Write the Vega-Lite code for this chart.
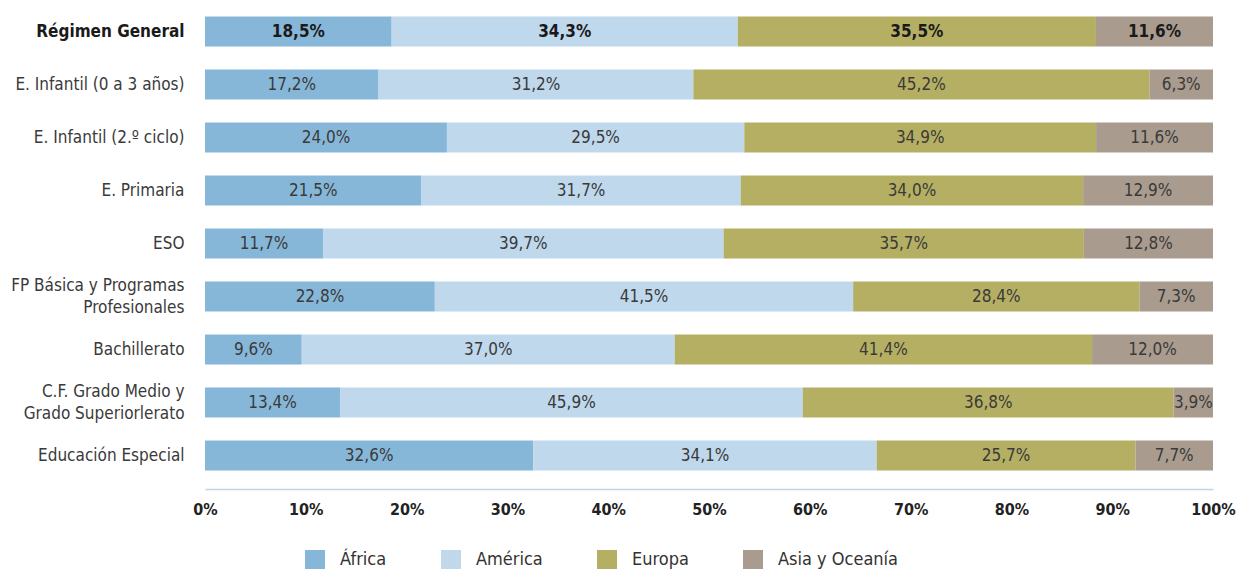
{
  "$schema": "https://vega.github.io/schema/vega-lite/v6.json",
  "width": 1008,
  "height": 477,
  "autosize": "none",
  "padding": {"left": 205, "top": 5, "right": 23, "bottom": 87},
  "background": "white",
  "config": {
    "view": {"stroke": null},
    "font": "'Liberation Sans Narrow', 'DejaVu Sans Condensed', sans-serif",
    "locale": {"number": {"decimal": ",", "thousands": ".", "grouping": [3], "currency": ["", " €"]}}
  },
  "data": {
    "values": [
      {"cat": "Régimen General", "region": "África", "ord": 1, "value": 0.185},
      {"cat": "Régimen General", "region": "América", "ord": 2, "value": 0.343},
      {"cat": "Régimen General", "region": "Europa", "ord": 3, "value": 0.355},
      {"cat": "Régimen General", "region": "Asia y Oceanía", "ord": 4, "value": 0.116},
      {"cat": "E. Infantil (0 a 3 años)", "region": "África", "ord": 1, "value": 0.172},
      {"cat": "E. Infantil (0 a 3 años)", "region": "América", "ord": 2, "value": 0.312},
      {"cat": "E. Infantil (0 a 3 años)", "region": "Europa", "ord": 3, "value": 0.452},
      {"cat": "E. Infantil (0 a 3 años)", "region": "Asia y Oceanía", "ord": 4, "value": 0.063},
      {"cat": "E. Infantil (2.º ciclo)", "region": "África", "ord": 1, "value": 0.240},
      {"cat": "E. Infantil (2.º ciclo)", "region": "América", "ord": 2, "value": 0.295},
      {"cat": "E. Infantil (2.º ciclo)", "region": "Europa", "ord": 3, "value": 0.349},
      {"cat": "E. Infantil (2.º ciclo)", "region": "Asia y Oceanía", "ord": 4, "value": 0.116},
      {"cat": "E. Primaria", "region": "África", "ord": 1, "value": 0.215},
      {"cat": "E. Primaria", "region": "América", "ord": 2, "value": 0.317},
      {"cat": "E. Primaria", "region": "Europa", "ord": 3, "value": 0.340},
      {"cat": "E. Primaria", "region": "Asia y Oceanía", "ord": 4, "value": 0.129},
      {"cat": "ESO", "region": "África", "ord": 1, "value": 0.117},
      {"cat": "ESO", "region": "América", "ord": 2, "value": 0.397},
      {"cat": "ESO", "region": "Europa", "ord": 3, "value": 0.357},
      {"cat": "ESO", "region": "Asia y Oceanía", "ord": 4, "value": 0.128},
      {"cat": "FP Básica y Programas|Profesionales", "region": "África", "ord": 1, "value": 0.228},
      {"cat": "FP Básica y Programas|Profesionales", "region": "América", "ord": 2, "value": 0.415},
      {"cat": "FP Básica y Programas|Profesionales", "region": "Europa", "ord": 3, "value": 0.284},
      {"cat": "FP Básica y Programas|Profesionales", "region": "Asia y Oceanía", "ord": 4, "value": 0.073},
      {"cat": "Bachillerato", "region": "África", "ord": 1, "value": 0.096},
      {"cat": "Bachillerato", "region": "América", "ord": 2, "value": 0.370},
      {"cat": "Bachillerato", "region": "Europa", "ord": 3, "value": 0.414},
      {"cat": "Bachillerato", "region": "Asia y Oceanía", "ord": 4, "value": 0.120},
      {"cat": "C.F. Grado Medio y|Grado Superiorlerato", "region": "África", "ord": 1, "value": 0.134},
      {"cat": "C.F. Grado Medio y|Grado Superiorlerato", "region": "América", "ord": 2, "value": 0.459},
      {"cat": "C.F. Grado Medio y|Grado Superiorlerato", "region": "Europa", "ord": 3, "value": 0.368},
      {"cat": "C.F. Grado Medio y|Grado Superiorlerato", "region": "Asia y Oceanía", "ord": 4, "value": 0.039},
      {"cat": "Educación Especial", "region": "África", "ord": 1, "value": 0.326},
      {"cat": "Educación Especial", "region": "América", "ord": 2, "value": 0.341},
      {"cat": "Educación Especial", "region": "Europa", "ord": 3, "value": 0.257},
      {"cat": "Educación Especial", "region": "Asia y Oceanía", "ord": 4, "value": 0.077}
    ]
  },
  "transform": [
    {"stack": "value", "groupby": ["cat"], "sort": [{"field": "ord", "order": "ascending"}], "offset": "normalize", "as": ["x0", "x1"]},
    {"calculate": "(datum.x0 + datum.x1) / 2", "as": "xmid"}
  ],
  "encoding": {
    "y": {
      "field": "cat",
      "type": "nominal",
      "sort": null,
      "title": null,
      "scale": {"paddingInner": 0.434, "paddingOuter": 0.217},
      "axis": {
        "domain": false,
        "ticks": false,
        "labelPadding": 21,
        "labelFontSize": 17,
        "labelLineHeight": 22,
        "labelOffset": {"condition": {"test": "indexof(datum.value, '|') >= 0", "value": -11}, "value": 0},
        "labelColor": {"condition": {"test": "datum.value === 'Régimen General'", "value": "#1a1a1a"}, "value": "#3a3a3a"},
        "labelFontWeight": {"condition": {"test": "datum.value === 'Régimen General'", "value": "bold"}, "value": "normal"},
        "labelLimit": 300,
        "labelExpr": "split(datum.label, '|')"
      }
    }
  },
  "layer": [
    {
      "mark": {"type": "bar"},
      "encoding": {
        "x": {
          "field": "x0",
          "type": "quantitative",
          "title": null,
          "scale": {"domain": [0, 1], "nice": false},
          "axis": {
            "format": ".0%",
            "values": [0, 0.1, 0.2, 0.3, 0.4, 0.5, 0.6, 0.7, 0.8, 0.9, 1],
            "grid": false,
            "ticks": false,
            "offset": 7,
            "domainColor": "#bdd7ea",
            "domainWidth": 1.5,
            "labelFlush": false,
            "labelFontSize": 16,
            "labelFontWeight": "bold",
            "labelColor": "#222222",
            "labelPadding": 12
          }
        },
        "x2": {"field": "x1"},
        "color": {
          "field": "region",
          "type": "nominal",
          "scale": {
            "domain": ["África", "América", "Europa", "Asia y Oceanía"],
            "range": ["#87b7d8", "#bfd8ec", "#b5af63", "#a99c8f"]
          },
          "legend": {
            "title": null,
            "orient": "none",
            "legendX": 100,
            "legendY": 545,
            "padding": 0,
            "direction": "horizontal",
            "symbolType": "square",
            "symbolSize": 400,
            "symbolStrokeWidth": 0,
            "labelFontSize": 18,
            "labelColor": "#333333",
            "labelOffset": 15,
            "columnPadding": 54
          }
        }
      }
    },
    {
      "transform": [{"filter": "datum.cat === 'Régimen General'"}],
      "mark": {"type": "text", "fontSize": 17, "fontWeight": "bold", "color": "#1a1a1a", "baseline": "middle"},
      "encoding": {
        "x": {"field": "xmid", "type": "quantitative"},
        "text": {"field": "value", "type": "quantitative", "format": ".1%"}
      }
    },
    {
      "transform": [{"filter": "datum.cat !== 'Régimen General'"}],
      "mark": {"type": "text", "fontSize": 17, "color": "#3a3a3a", "baseline": "middle"},
      "encoding": {
        "x": {"field": "xmid", "type": "quantitative"},
        "text": {"field": "value", "type": "quantitative", "format": ".1%"}
      }
    }
  ]
}
